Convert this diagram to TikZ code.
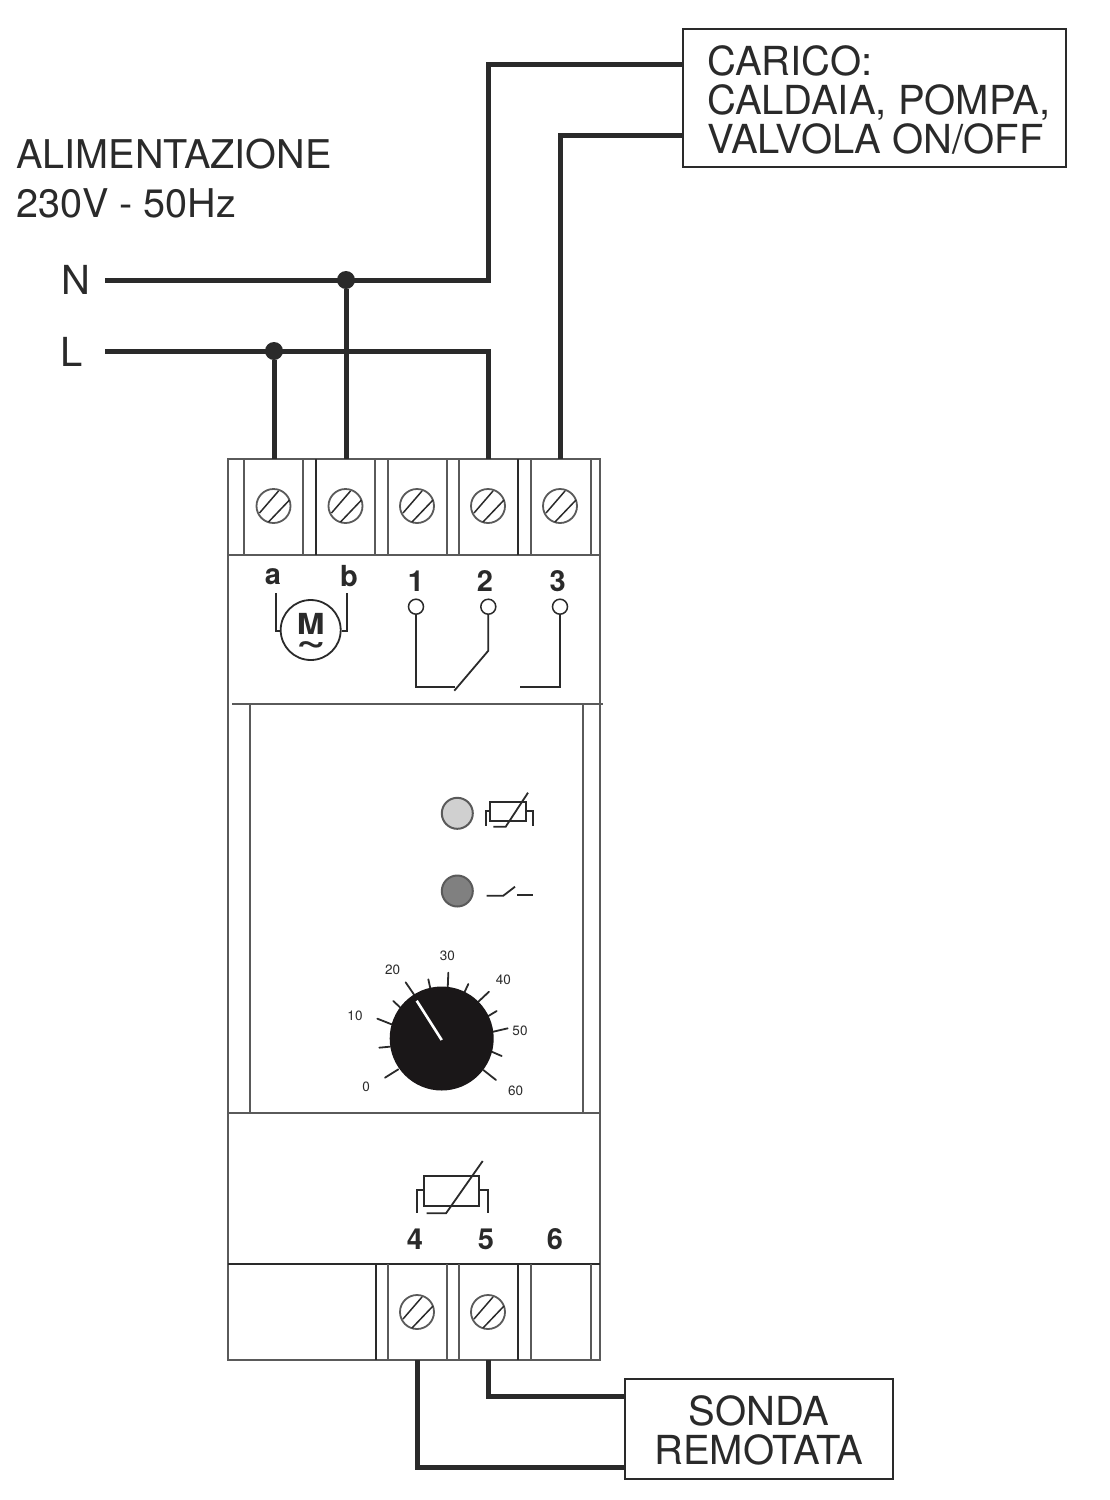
\documentclass[tikz,border=0pt]{standalone}
\usepackage{fontspec}
\setmainfont{TeX Gyre Heros}
\definecolor{ink}{HTML}{2A2A2A}
\definecolor{frame}{HTML}{5A5A5A}
\tikzset{
  wire/.style={line width=5pt,draw=ink,line join=miter},
  frameline/.style={line width=2pt,draw=frame},
  darkline/.style={line width=1.8pt,draw=ink},
  thin symbol/.style={line width=1.8pt,draw=ink},
  screwhead/.style={circle,draw=frame,line width=1.8pt,minimum size=34pt,inner sep=0pt},
  stripe/.style={line width=1.5pt,draw=ink},
  pinhole/.style={circle,draw=ink,line width=1.5pt,fill=white,minimum size=15pt,inner sep=0pt},
  junction/.style={circle,fill=ink,minimum size=18pt,inner sep=0pt},
  labelbox/.style={draw=ink,line width=1.6pt,fill=white,inner sep=0pt},
  bigtext/.style={font=\fontsize{40}{39}\selectfont,text=ink,inner sep=0pt},
  numtext/.style={font=\bfseries\fontsize{29}{29}\selectfont,text=ink,inner sep=0pt},
  ticktext/.style={font=\fontsize{13.5}{13.5}\selectfont,text=ink,inner sep=0pt},
  led/.style={circle,draw=frame,line width=2pt,minimum size=31pt,inner sep=0pt},
}
\begin{document}
\begin{tikzpicture}[x=1pt,y=-1pt]
\useasboundingbox[fill=white] (0,0) rectangle (1109,1500);

% device body
\draw[frameline] (228,459) rectangle (600,1360);
\draw[frameline] (228,555) -- (600,555);
\draw[frameline] (232,704) -- (603,704);
\draw[frameline] (228,1113) -- (600,1113);
\draw[darkline] (228,1264) -- (600,1264);
\draw[frameline] (250,704) -- (250,1113);
\draw[frameline] (583,704) -- (583,1113);
% top terminal dividers
\foreach \x in {243.5,303,375,388,447,459,531,591}
  \draw[frameline] (\x,459) -- (\x,555);
\foreach \x in {316,518}
  \draw[darkline] (\x,459) -- (\x,555);
% bottom terminal dividers
\foreach \x in {388,447,459,531,591}
  \draw[frameline] (\x,1264) -- (\x,1360);
\foreach \x in {376,518}
  \draw[darkline] (\x,1264) -- (\x,1360);

% screws
\foreach \n/\x/\y in {sa/273.5/506,sb/345.5/506,sc/417/506,sd/488/506,se/560/506,sf/417/1312,sg/488/1312}{
  \node[screwhead] (\n) at (\x,\y) {};
  \draw[stripe] (\n) ++(-14,7) -- ++(19,-22);
  \draw[stripe] (\n) ++(-5,16) -- ++(21,-22);
}

% wire anchors
\coordinate (pa) at (274,459);
\coordinate (pb) at (346,459);
\coordinate (pd) at (488,459);
\coordinate (pe) at (560,459);
\coordinate (pf) at (417,1360);
\coordinate (pg) at (488,1360);
\coordinate (nstart) at (105,280);
\coordinate (lstart) at (105,351);
\coordinate (nbend) at (488,280);
\coordinate (nup) at (488,64);
\coordinate (lbend) at (488,351);
\coordinate (ebend) at (560,135);
\coordinate (gbend) at (488,1396);
\coordinate (fbend) at (417,1467);

% boxes
\node[labelbox,minimum width=383pt,minimum height=138pt] (carico) at (874.5,98) {};
\node[bigtext,align=left] (caricotext) at (879,100) {CARICO:\\CALDAIA, POMPA,\\VALVOLA ON/OFF};
\node[labelbox,minimum width=268pt,minimum height=100pt] (sonda) at (759,1429) {};
\node[bigtext,align=center] (sondatext) at (759,1430) {SONDA\\REMOTATA};
\coordinate (ctop) at (carico.west |- nup);
\coordinate (cbot) at (carico.west |- ebend);
\coordinate (stop) at (sonda.west |- gbend);
\coordinate (sbot) at (sonda.west |- fbend);

% supply labels
\node[bigtext,anchor=west,align=left,font=\fontsize{39.6}{49}\selectfont] (supply) at (16,179) {ALIMENTAZIONE\\230V - 50Hz};
\node[bigtext] (nlabel) at (76,280) {N};
\node[bigtext] (llabel) at (72,352) {L};

% junctions
\node[junction] (jn) at (346,280) {};
\node[junction] (jl) at (274,351) {};

% wires
\draw[wire] (nstart) -- (nbend) -- (nup) -- (ctop);
\draw[wire] (lstart) -- (lbend) -- (pd);
\draw[wire] (jn) -- (pb);
\draw[wire] (jl) -- (pa);
\draw[wire] (pe) -- (ebend -| pe) -- (cbot);
\draw[wire] (pg) -- (gbend) -- (stop);
\draw[wire] (pf) -- (fbend) -- (sbot);

% terminal labels
\node[numtext] (la) at (273,577) {a};
\node[numtext] (lb) at (349,576) {b};
\node[numtext] (l1) at (416,581) {1};
\node[numtext] (l2) at (485,581) {2};
\node[numtext] (l3) at (557.7,581) {3};
\node[numtext] (l4) at (415,1239) {4};
\node[numtext] (l5) at (486,1239) {5};
\node[numtext] (l6) at (555,1239) {6};

% motor
\node[circle,draw=ink,line width=1.8pt,minimum size=60pt,inner sep=0pt] (motor) at (310.7,630) {};
\node[inner sep=0pt,font=\bfseries\fontsize{29}{29}\selectfont,text=ink,xscale=1.15] (mletter) at (310.7,624) {M};
\node[inner sep=0pt,font=\bfseries\fontsize{38}{38}\selectfont,text=ink,xscale=1.35,text height=7pt,text depth=0pt] (mtilde) at (311.5,650) {\char`\~};
\draw[thin symbol] (275.7,593.3) -- (275.7,630.7) -- (motor.west |- 0,630.7);
\draw[thin symbol] (347,593.3) -- (347,630.7) -- (motor.east |- 0,630.7);

% relay
\node[pinhole] (p1) at (416,606.7) {};
\node[pinhole] (p2) at (488.3,606.7) {};
\node[pinhole] (p3) at (560,606.7) {};
\draw[thin symbol] (p1.south) -- (416,686.7) -- (455,686.7);
\draw[thin symbol] (p2.south) -- (488.3,650.7) -- (454.3,690.7);
\draw[thin symbol] (p3.south) -- (560,686.7) -- (520,686.7);

% LEDs
\node[led,fill={rgb,255:red,208;green,208;blue,208}] (led1) at (457.3,813.3) {};
\node[led,fill={rgb,255:red,128;green,128;blue,128}] (led2) at (457.3,891) {};

% small thermistor
\draw[thin symbol] (490,801.7) rectangle (526,821);
\draw[thin symbol] (490,810.7) -- (486,810.7) -- (486,825.7);
\draw[thin symbol] (526,810.7) -- (532.7,810.7) -- (532.7,825.7);
\draw[thin symbol] (528,792.7) -- (505.7,826.7) -- (493.3,826.7);

% switch icon
\draw[thin symbol] (486.7,895.7) -- (503.3,895.7) -- (515,886.7);
\draw[thin symbol] (517.3,895) -- (532.7,895);

% dial
\foreach \xa/\ya/\xb/\yb in {135/893/175/868,118/803/150/800,112/716/155/733,160/663/180/682,197/607/225/648,265/598/272/630,325/578/323/628,385/612/372/640,447/635/412/668,470/693/445/708,503/745/460/755,485/828/455/815,468/900/430/870}
  \draw[thin symbol,line cap=round] ({340+\xa/3},{780+\ya/3}) -- ({340+\xb/3},{780+\yb/3});
\node[circle,fill={rgb,255:red,26;green,23;blue,24},minimum size=104pt,inner sep=0pt] (dial) at (441.7,1038.5) {};
\draw[line width=2.6pt,draw=white] (441.7,1040) -- (416.7,1000.7);
\node[ticktext] (t0) at (366,1087) {0};
\node[ticktext] (t10) at (355,1015.7) {10};
\node[ticktext] (t20) at (392.7,970) {20};
\node[ticktext] (t30) at (447.3,956) {30};
\node[ticktext] (t40) at (503.3,980) {40};
\node[ticktext] (t50) at (520,1030.7) {50};
\node[ticktext] (t60) at (515.7,1090.7) {60};

% large thermistor
\draw[thin symbol] (424,1176) rectangle (478.7,1206);
\draw[thin symbol] (424,1190) -- (417.3,1190) -- (417.3,1212.7);
\draw[thin symbol] (478.7,1190) -- (487.7,1190) -- (487.7,1212.7);
\draw[thin symbol] (482.7,1161) -- (446,1213.3) -- (426.7,1213.3);
\end{tikzpicture}
\end{document}
